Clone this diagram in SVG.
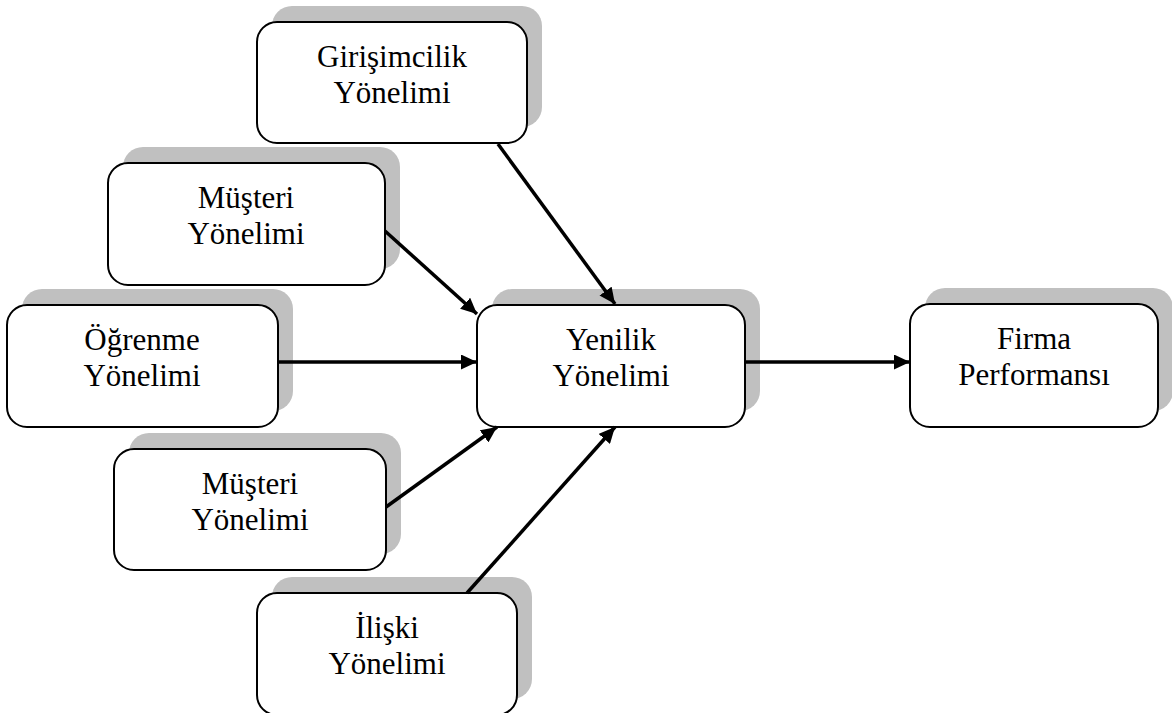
<svg xmlns="http://www.w3.org/2000/svg" width="1172" height="713" viewBox="0 0 1172 713">
  <style>
    .shadow { fill: #c0c0c0; }
    .box { fill: #ffffff; stroke: #000000; stroke-width: 2; }
    .label { font-family: 'Liberation Serif', 'DejaVu Serif', serif; font-size: 31px; fill: #000000; text-anchor: middle; }
    .edge { stroke: #000000; stroke-width: 3.5; fill: none; marker-end: url(#arrow); }
  </style>
  <defs>
    <marker id="arrow" markerUnits="userSpaceOnUse" markerWidth="17" markerHeight="15" refX="16" refY="7.5" orient="auto">
      <path d="M0,0 L16,7.5 L0,15 Z" fill="#000000"/>
    </marker>
  </defs>
  <rect width="1172" height="713" fill="#ffffff"/>

  <g id="node-girisimcilik">
    <rect class="shadow" x="272" y="6" width="270" height="121" rx="20"/>
    <rect class="box" x="257" y="22" width="270" height="121" rx="20"/>
    <text class="label" x="392" y="67">Girişimcilik</text>
    <text class="label" x="392" y="103">Yönelimi</text>
  </g>

  <g id="node-musteri-1">
    <rect class="shadow" x="123" y="147" width="277" height="122" rx="20"/>
    <rect class="box" x="108" y="163" width="277" height="122" rx="20"/>
    <text class="label" x="246" y="208">Müşteri</text>
    <text class="label" x="246" y="244">Yönelimi</text>
  </g>

  <g id="node-ogrenme">
    <rect class="shadow" x="22" y="289" width="271" height="122" rx="20"/>
    <rect class="box" x="7" y="305" width="271" height="122" rx="20"/>
    <text class="label" x="142" y="350">Öğrenme</text>
    <text class="label" x="142" y="386">Yönelimi</text>
  </g>

  <g id="node-yenilik">
    <rect class="shadow" x="492" y="289" width="268" height="122" rx="20"/>
    <rect class="box" x="477" y="305" width="268" height="122" rx="20"/>
    <text class="label" x="611" y="350">Yenilik</text>
    <text class="label" x="611" y="386">Yönelimi</text>
  </g>

  <g id="node-firma">
    <rect class="shadow" x="925" y="288" width="248" height="123" rx="20"/>
    <rect class="box" x="910" y="304" width="248" height="123" rx="20"/>
    <text class="label" x="1034" y="349">Firma</text>
    <text class="label" x="1034" y="385">Performansı</text>
  </g>

  <g id="node-musteri-2">
    <rect class="shadow" x="129" y="433" width="272" height="121" rx="20"/>
    <rect class="box" x="114" y="449" width="272" height="121" rx="20"/>
    <text class="label" x="250" y="494">Müşteri</text>
    <text class="label" x="250" y="530">Yönelimi</text>
  </g>

  <g id="node-iliski">
    <rect class="shadow" x="272" y="577" width="260" height="122" rx="20"/>
    <rect class="box" x="257" y="593" width="260" height="122" rx="20"/>
    <text class="label" x="387" y="638">İlişki</text>
    <text class="label" x="387" y="674">Yönelimi</text>
  </g>

  <g id="connectors">
    <line class="edge" x1="498" y1="144" x2="615" y2="304"/>
    <line class="edge" x1="385" y1="231" x2="477" y2="314"/>
    <line class="edge" x1="278" y1="362" x2="477" y2="362"/>
    <line class="edge" x1="386" y1="507" x2="497" y2="427"/>
    <line class="edge" x1="467" y1="593" x2="615" y2="427"/>
    <line class="edge" x1="745" y1="362" x2="910" y2="362"/>
  </g>
</svg>
